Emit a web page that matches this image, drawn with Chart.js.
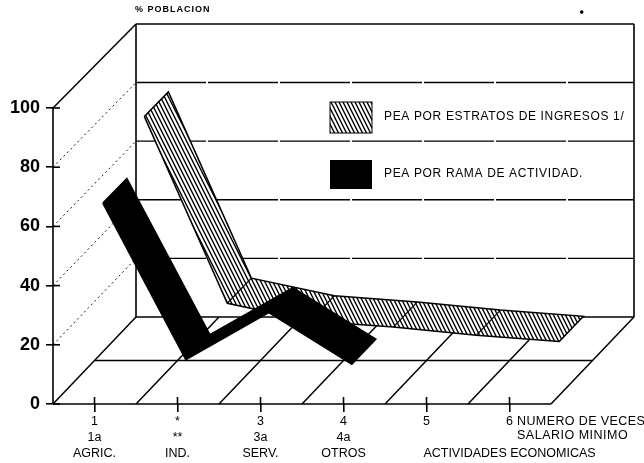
<!DOCTYPE html>
<html>
<head>
<meta charset="utf-8">
<style>
    html, body { margin: 0; padding: 0; background: #fff; }
    canvas { display: block; }
</style>
<script src="https://cdn.jsdelivr.net/npm/chart.js@4/dist/chart.umd.js"></script>
</head>
<body>
<canvas id="myChart" width="644" height="463"></canvas>
<script>
// Values
const categories = [1, 2, 3, 4, 5, 6];
const tickLabels = [
    ['1', '1a', 'AGRIC.'],
    ['*', '**', 'IND.'],
    ['3', '3a', 'SERV.'],
    ['4', '4a', 'OTROS'],
    ['5'],
    ['6', '', 'ACTIVIDADES ECONOMICAS']
];
const yTicks = [0, 20, 40, 60, 80, 100];
const estratosValues = [80, 16.5, 10.5, 8.4, 5.6, 3.5];
const ramaValues = [65, 12, 28, 10.5];
const floorDepths = [0, 0.5, 1];
const ribbonDepths = { rama: [0.1, 0.39], estratos: [0.6, 0.89] };
const speck = { x: 6.87, y: 132.4 };

// oblique projection into the data space of the two axes
const DEPTH_Y = 29.4;
function project(cat, value, depth) {
    return { x: cat + depth, y: value * (1 - 0.01 * depth) + depth * DEPTH_Y };
}

const font = 'Liberation Sans, Arial, sans-serif';

function makeHatch() {
    var c = document.createElement('canvas');
    c.width = 4;
    c.height = 8;
    var g = c.getContext('2d');
    g.fillStyle = '#fff';
    g.fillRect(0, 0, 4, 8);
    g.strokeStyle = '#000';
    g.lineWidth = 1.4;
    g.beginPath();
    g.moveTo(-1, -2); g.lineTo(5, 10);
    g.moveTo(-5, -2); g.lineTo(1, 10);
    g.moveTo(3, -2); g.lineTo(9, 10);
    g.stroke();
    return g.createPattern(c, 'repeat');
}
const hatch = makeHatch();

function lineSet(points, width, dash, order) {
    return {
        data: points,
        showLine: true,
        pointRadius: 0,
        borderColor: '#000',
        borderWidth: width,
        borderDash: dash || [],
        order: order || 5,
        clip: false
    };
}

function ribbonSets(values, depths, fill, order) {
    var front = values.map(function (v, i) { return project(categories[i], v, depths[0]); });
    var back = values.map(function (v, i) { return project(categories[i], v, depths[1]); });
    var outline = front.concat(back.slice().reverse(), [front[0]]);
    var sets = [];
    var body = lineSet(outline, 1.5, null, order + 1);
    body.ribbonFill = fill;
    sets.push(body);
    // the folds across the ribbon
    for (var i = 1; i < values.length - 1; i++) {
        sets.push(lineSet([front[i], back[i]], 1.2, null, order));
    }
    return sets;
}

var datasets = [];

// floor
categories.concat([7]).forEach(function (c) {
    datasets.push(lineSet([project(c - 0.5, 0, 0), project(c - 0.5, 0, 1)], 1.5));
});
floorDepths.forEach(function (d) {
    datasets.push(lineSet([project(0.5, 0, d), project(6.5, 0, d)], d === 1 ? 1.3 : 1.6));
});

// walls
yTicks.forEach(function (v) {
    if (v > 0) {
        datasets.push(lineSet([project(0.5, v, 1), project(6.5, v, 1)], 1.4, v === 100 ? null : [70, 2]));
        datasets.push(lineSet([project(0.5, v, 0), project(0.5, v, 1)], v === 100 ? 1.5 : 0.9, v === 100 ? null : [2, 3]));
    }
    // inner half of the tick marks on the value axis
    var inner = { x: 0.5 + 7 / 83, y: v };
    datasets.push(lineSet([{ x: 0.5, y: v }, inner], 1.6));
});
datasets.push(lineSet([project(0.5, 0, 0), project(0.5, 100, 0)], 1.6));
datasets.push(lineSet([project(0.5, 0, 1), project(0.5, 100, 1)], 1.6));
datasets.push(lineSet([project(6.5, 0, 1), project(6.5, 100, 1)], 1.6));

// inner half of the tick marks on the category axis
categories.forEach(function (c) {
    datasets.push(lineSet([{ x: c, y: 0 }, { x: c, y: 7 / 2.96 }], 1.6));
});

datasets = datasets.concat(ribbonSets(estratosValues, ribbonDepths.estratos, hatch, 3));
datasets = datasets.concat(ribbonSets(ramaValues, ribbonDepths.rama, '#000', 1));

const ribbonFill = {
    id: 'ribbonFill',
    beforeDatasetDraw: function (chart, args) {
        var ds = chart.data.datasets[args.index];
        if (!ds.ribbonFill) return;
        var ctx = chart.ctx;
        ctx.save();
        ctx.beginPath();
        args.meta.data.forEach(function (p, i) {
            if (i === 0) ctx.moveTo(p.x, p.y);
            else ctx.lineTo(p.x, p.y);
        });
        ctx.closePath();
        ctx.fillStyle = ds.ribbonFill;
        ctx.fill();
        ctx.restore();
    }
};

function label(ctx, text, x, y, size, spacing, weight) {
    ctx.font = (weight || 'normal') + ' ' + size + 'px ' + font;
    ctx.letterSpacing = spacing + 'px';
    ctx.fillText(text, x, y);
}

const annotations = {
    id: 'annotations',
    afterDraw: function (chart) {
        var ctx = chart.ctx;
        ctx.save();
        ctx.fillStyle = '#000';
        ctx.textBaseline = 'middle';
        ctx.textAlign = 'left';
        label(ctx, '% POBLACION', 135, 10, 9, 1, 'bold');
        label(ctx, 'PEA POR ESTRATOS DE INGRESOS 1/', 384, 117, 12, 0.65);
        label(ctx, 'PEA POR RAMA DE ACTIVIDAD.', 384, 174, 12, 0.65);
        label(ctx, 'NUMERO DE VECES', 517, 422, 12.5, 0.4);
        label(ctx, 'SALARIO MINIMO', 517, 436, 12.5, 0.5);

        // dot in the top margin of the scan
        ctx.beginPath();
        ctx.arc(chart.scales.x.getPixelForValue(speck.x), chart.scales.y.getPixelForValue(speck.y), 1.8, 0, Math.PI * 2);
        ctx.fill();

        ctx.fillStyle = hatch;
        ctx.fillRect(330, 102, 42, 31);
        ctx.strokeStyle = '#000';
        ctx.lineWidth = 1;
        ctx.strokeRect(330, 102, 42, 31);
        ctx.fillStyle = '#000';
        ctx.fillRect(330, 160, 42, 29);
        ctx.restore();
    }
};

var myChart = new Chart(document.getElementById('myChart'), {
    type: 'scatter',
    data: { datasets: datasets },
    plugins: [ribbonFill, annotations],
    options: {
        responsive: false,
        animation: false,
        layout: { padding: { top: 24, right: 10, left: 0, bottom: 0 } },
        plugins: { legend: { display: false }, tooltip: { enabled: false } },
        scales: {
            x: {
                type: 'linear',
                min: 0.5,
                max: 7.5,
                afterFit: function (s) { s.height = 59; },
                afterBuildTicks: function (s) {
                    s.ticks = categories.map(function (c) { return { value: c }; });
                },
                border: { display: false },
                grid: { drawOnChartArea: false, tickLength: 8, color: '#000', lineWidth: 1.6 },
                ticks: {
                    autoSkip: false,
                    maxRotation: 0,
                    padding: 2,
                    color: '#000',
                    font: { family: font, size: 12.5, lineHeight: 1.28 },
                    callback: function (v) { return tickLabels[categories.indexOf(v)]; }
                }
            },
            y: {
                min: 0,
                max: 128.38,
                afterFit: function (s) { s.width = 53; },
                afterBuildTicks: function (s) {
                    s.ticks = yTicks.map(function (v) { return { value: v }; });
                },
                border: { display: false },
                grid: { drawOnChartArea: false, tickLength: 7, color: '#000', lineWidth: 1.6 },
                ticks: {
                    padding: 6,
                    color: '#000',
                    font: { family: font, size: 18, weight: 'bold' }
                }
            }
        }
    }
});
</script>
</body>
</html>
